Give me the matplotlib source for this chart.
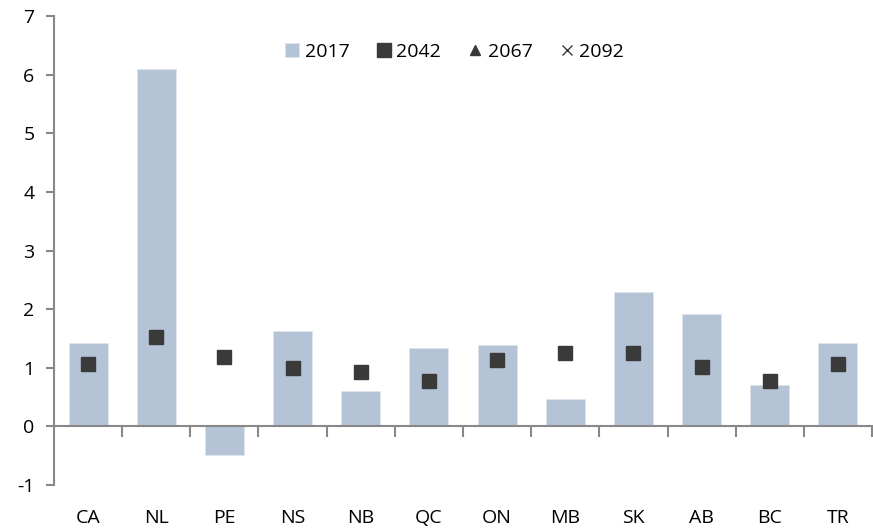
import numpy as np
import matplotlib.pyplot as plt
import matplotlib.transforms as mtransforms

plt.rcParams['font.family'] = ['Open Sans', 'DejaVu Sans']
plt.rcParams['axes.unicode_minus'] = False

provinces = ["CA", "NL", "PE", "NS", "NB", "QC", "ON", "MB", "SK", "AB", "BC", "TR"]
v2017 = [1.43, 6.09, -0.49, 1.62, 0.61, 1.33, 1.38, 0.46, 2.29, 1.91, 0.70, 1.43]
v2042 = [1.06, 1.53, 1.18, 0.99, 0.92, 0.78, 1.14, 1.25, 1.26, 1.02, 0.78, 1.06]
v2067 = [np.nan] * 12
v2092 = [np.nan] * 12

bar_color = "#b4c3d6"
axis_color = "#888888"

fig = plt.figure(figsize=(8.73, 5.29), dpi=100)
ax = fig.add_axes([54 / 873, 44 / 529, 818 / 873, 469 / 529])

x = np.arange(len(provinces))
b = ax.bar(x, v2017, width=0.57, color=bar_color, edgecolor="#dde4ee", linewidth=0.6,
           label="2017", zorder=2)
l1, = ax.plot(x, v2042, linestyle="none", marker="s", markersize=10, color="#3a3a3a",
              label="2042", zorder=3)
l2, = ax.plot(x, v2067, linestyle="none", marker="^", markersize=7, color="#3a3a3a",
              label="2067", zorder=3)
l3, = ax.plot(x, v2092, linestyle="none", marker="x", markersize=7, color="#3a3a3a",
              label="2092", zorder=3)

ax.set_xlim(-0.5, len(provinces) - 0.5)
ax.set_ylim(-1, 7)
ax.set_yticks(range(-1, 8))

for side in ["top", "right"]:
    ax.spines[side].set_visible(False)
ax.spines["left"].set_color(axis_color)
ax.spines["left"].set_linewidth(1.5)
ax.spines["bottom"].set_position(("data", 0))
ax.spines["bottom"].set_color(axis_color)
ax.spines["bottom"].set_linewidth(1.5)

ax.set_xticks(np.arange(len(provinces)) + 0.5)
ax.set_xticklabels([])
ax.tick_params(axis="x", length=8, width=1.5, color=axis_color, direction="out")
ax.tick_params(axis="y", length=6, width=1.5, color=axis_color, direction="out",
               labelsize=14, pad=8)

trans = mtransforms.blended_transform_factory(ax.transData, ax.transAxes)
for i, p in enumerate(provinces):
    ax.text(i, -0.07, p, transform=trans, ha="center", va="center", fontsize=14)

ax.legend([b, l1, l2, l3], ["2017", "2042", "2067", "2092"],
          loc="upper center", bbox_to_anchor=(0.49, 0.98), ncol=4, frameon=False,
          fontsize=14, handlelength=0.7, handletextpad=0.3, columnspacing=1.4)

fig.savefig("out.png", dpi=100)
